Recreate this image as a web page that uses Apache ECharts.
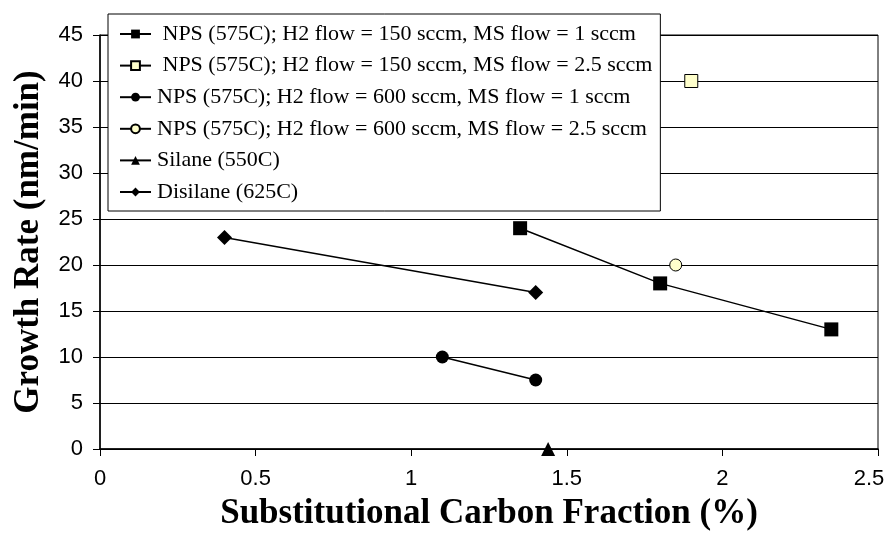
<!DOCTYPE html>
<html><head><meta charset="utf-8">
<script src="https://cdn.jsdelivr.net/npm/echarts@6/dist/echarts.min.js"></script>
<style>html,body{margin:0;padding:0;background:#fff}#c{width:891px;height:537px}</style>
</head><body><div id="c"></div>
<script>
const seriesNames = [
  ' NPS (575C); H2 flow = 150 sccm, MS flow = 1 sccm',
  ' NPS (575C); H2 flow = 150 sccm, MS flow = 2.5 sccm',
  'NPS (575C); H2 flow = 600 sccm, MS flow = 1 sccm',
  'NPS (575C); H2 flow = 600 sccm, MS flow = 2.5 sccm',
  'Silane (550C)',
  'Disilane (625C)'
];
const nps150ms1 = [[1.35, 24], [1.8, 18], [2.35, 13]];
const nps150ms25 = [[1.9, 40]];
const nps600ms1 = [[1.1, 10], [1.4, 7.5]];
const nps600ms25 = [[1.85, 20]];
const silane = [[1.44, 0]];
const disilane = [[0.4, 23], [1.4, 17]];
const xTicks = [0, 0.5, 1, 1.5, 2, 2.5];
const yTicks = [0, 5, 10, 15, 20, 25, 30, 35, 40, 45];

const chart = echarts.init(document.getElementById('c'));
function mk(name, data, symbol, size, fill) {
  return {
    name, type: 'line', data, symbol, symbolSize: size,
    lineStyle: { color: '#000', width: 1.5 },
    itemStyle: { color: fill, borderColor: '#000', borderWidth: fill === '#000' ? 0 : 1 },
    emphasis: { disabled: true },
    animation: false
  };
}
const labelFont = { fontFamily: 'Liberation Sans', fontSize: 22, color: '#000' };
chart.setOption({
  backgroundColor: '#fff',
  animation: false,
  grid: { left: 100, right: 13, top: 35, bottom: 88, show: true, borderColor: '#000', borderWidth: 1,
          containLabel: false, outerBoundsMode: 'none' },
  legend: {
    orient: 'vertical', left: 108, top: 14,
    backgroundColor: '#fff',
    borderColor: '#000', borderWidth: 1,
    padding: [9, 8, 8, 11],
    itemGap: 9.6, itemWidth: 31, itemHeight: 11,
    textStyle: { fontFamily: 'Liberation Serif', fontSize: 22, color: '#000', lineHeight: 22, padding: [0, 0, 0, 1] },
    data: seriesNames
  },
  xAxis: {
    type: 'value', min: 0, max: 2.5, interval: 0.5,
    name: 'Substitutional Carbon Fraction (%)', nameLocation: 'middle', nameGap: 47,
    nameTextStyle: { fontFamily: 'Liberation Serif', fontWeight: 'bold', fontSize: 35, color: '#000' },
    axisLine: { lineStyle: { color: '#000', width: 1.5 } },
    axisTick: { show: true, length: 7, lineStyle: { color: '#000' } },
    axisLabel: Object.assign({}, labelFont, { margin: 19,
      formatter: v => {
        if (!xTicks.includes(v)) return '';
        return v === xTicks[xTicks.length - 1] ? '{last|' + v + '}' : String(v);
      },
      rich: { last: Object.assign({}, labelFont, { padding: [0, 18, 0, 0] }) } }),
    splitLine: { show: false }
  },
  yAxis: {
    type: 'value', min: 0, max: 45, interval: 5,
    name: 'Growth Rate (nm/min)', nameLocation: 'middle', nameGap: 54,
    nameTextStyle: { fontFamily: 'Liberation Serif', fontWeight: 'bold', fontSize: 35, color: '#000' },
    axisLine: { show: true, lineStyle: { color: '#000', width: 1.5 } },
    axisTick: { show: true, length: 7, lineStyle: { color: '#000' } },
    axisLabel: Object.assign({}, labelFont, { margin: 17,
      formatter: v => yTicks.includes(v) ? String(v) : '' }),
    splitLine: { show: true, lineStyle: { color: '#000', width: 1 } }
  },
  series: [
    mk(seriesNames[0], nps150ms1, 'rect', 14, '#000'),
    mk(seriesNames[1], nps150ms25, 'rect', 13, '#FFFFCC'),
    mk(seriesNames[2], nps600ms1, 'circle', 13, '#000'),
    mk(seriesNames[3], nps600ms25, 'circle', 12, '#FFFFCC'),
    mk(seriesNames[4], silane, 'triangle', 14, '#000'),
    mk(seriesNames[5], disilane, 'diamond', 15, '#000')
  ]
});
</script>
</body></html>
